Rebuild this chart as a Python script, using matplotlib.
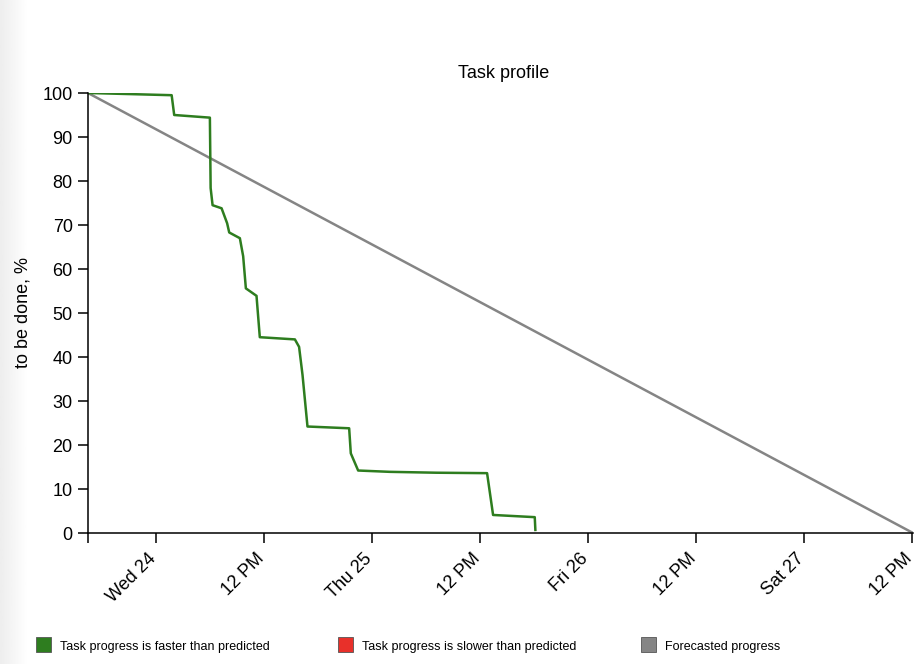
import numpy as np
import pandas as pd
import matplotlib
matplotlib.use("Agg")
from matplotlib import pyplot as plt
import matplotlib.dates as mdates
import matplotlib.transforms as mtransforms
from matplotlib.patches import Rectangle

plt.rcParams['font.family'] = ['Liberation Sans', 'DejaVu Sans']

# actual progress (time, % still to be done)
progress_time = ["2018-01-23 16:33", "2018-01-24 01:45", "2018-01-24 02:02", "2018-01-24 06:00",
                 "2018-01-24 06:05", "2018-01-24 06:18", "2018-01-24 07:18", "2018-01-24 07:55",
                 "2018-01-24 08:09", "2018-01-24 09:20", "2018-01-24 09:42", "2018-01-24 10:00",
                 "2018-01-24 11:11", "2018-01-24 11:33", "2018-01-24 15:27", "2018-01-24 15:55",
                 "2018-01-24 16:18", "2018-01-24 16:51", "2018-01-24 21:29", "2018-01-24 21:40",
                 "2018-01-24 22:29", "2018-01-25 02:00", "2018-01-25 07:11", "2018-01-25 12:49",
                 "2018-01-25 13:29", "2018-01-25 18:07", "2018-01-25 18:11"]
progress_left = [100, 99.5, 95, 94.4,
                 78.4, 74.5, 73.8, 70.4,
                 68.3, 67, 62.9, 55.6,
                 53.9, 44.5, 44, 42.3,
                 35.9, 24.2, 23.8, 18.1,
                 14.2, 13.9, 13.7, 13.6,
                 4.1, 3.6, 0.7]

# forecast: straight line from start to end
forecast_time = ["2018-01-23 16:27", "2018-01-27 12:10"]
forecast_left = [100, 0]

tick_time = ["2018-01-24 00:00", "2018-01-24 12:00", "2018-01-25 00:00", "2018-01-25 12:00",
             "2018-01-26 00:00", "2018-01-26 12:00", "2018-01-27 00:00", "2018-01-27 12:00"]
tick_labels = ["Wed 24", "12 PM", "Thu 25", "12 PM", "Fri 26", "12 PM", "Sat 27", "12 PM"]

legend_labels = ["Task progress is faster than predicted",
                 "Task progress is slower than predicted",
                 "Forecasted progress"]
legend_colors = ["#2e7d1f", "#e8302a", "#858585"]

green = "#2e7d1f"
grey = "#858585"

fig = plt.figure(figsize=(9.15, 6.64), dpi=100)

# light grey strip on the left edge
strip = fig.add_axes([0, 0, 0.03, 1])
strip.imshow(np.linspace(0.93, 1.0, 50).reshape(1, -1), cmap="gray", vmin=0, vmax=1,
             aspect="auto", extent=[0, 1, 0, 1])
strip.axis("off")

ax = fig.add_axes([88 / 915, 131 / 664, 825 / 915, 440 / 664])

t_prog = pd.to_datetime(progress_time)
t_fc = pd.to_datetime(forecast_time)

ax.plot(t_fc, forecast_left, color=grey, linewidth=1.8, solid_capstyle="butt")
ax.plot(t_prog, progress_left, color=green, linewidth=1.8, solid_joinstyle="round")

ax.set_xlim(t_fc[0], t_fc[-1])
ax.set_ylim(0, 100)

ticks = [mdates.date2num(t_fc[0])] + list(mdates.date2num(pd.to_datetime(tick_time)))
ax.set_xticks(ticks)
ax.set_xticklabels([""] + tick_labels, rotation=45, ha="right", va="top",
                   rotation_mode="anchor", fontsize=13)
ax.set_yticks(np.arange(0, 101, 10))
ax.tick_params(axis="both", direction="out", length=7, width=1.1, color="black",
               labelsize=13, pad=4)
ax.tick_params(axis="x", pad=8)

# nudge rotated labels so their ends sit under the ticks
shift = mtransforms.ScaledTranslation(-0.08, 0.035, fig.dpi_scale_trans)
for lab in ax.get_xticklabels():
    lab.set_transform(lab.get_transform() + shift)

for s in ["top", "right"]:
    ax.spines[s].set_visible(False)
for s in ["left", "bottom"]:
    ax.spines[s].set_linewidth(1.1)

fig.text(504 / 915, 1 - 73 / 664, "Task profile", ha="center", va="center", fontsize=13)
fig.text(23 / 915, 1 - 313 / 664, "to be done, %", ha="center", va="center",
         rotation=90, fontsize=13)

# legend below the chart
legend_x = [36, 338, 641]
for x, lab, col in zip(legend_x, legend_labels, legend_colors):
    fig.patches.append(Rectangle((x / 915, 1 - 652 / 664), 15 / 915, 15 / 664,
                                 transform=fig.transFigure, facecolor=col,
                                 edgecolor="#555555", linewidth=0.6))
    fig.text((x + 24) / 915, 1 - 647 / 664, lab, ha="left", va="center", fontsize=9)

fig.savefig("out.png", dpi=100)
